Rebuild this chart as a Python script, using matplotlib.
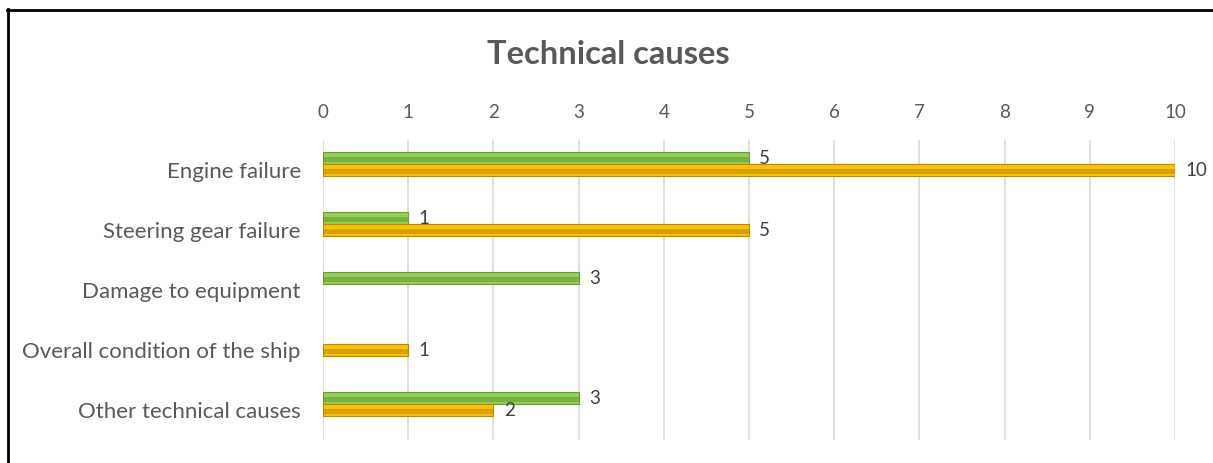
import matplotlib.pyplot as plt
import numpy as np
from matplotlib.lines import Line2D

plt.rcParams['font.family'] = ['Lato', 'DejaVu Sans']

causes = ["Engine failure", "Steering gear failure", "Damage to equipment",
          "Overall condition of the ship", "Other technical causes"]
green_vals = [5, 1, 3, 0, 3]
yellow_vals = [10, 5, 0, 1, 2]
x_ticks = list(range(0, 11))

fig = plt.figure(figsize=(12.13, 4.63), dpi=100)
ax = fig.add_axes([323 / 1213, 23 / 463, 852 / 1213, 300 / 463])

y = np.arange(len(causes))
h = 0.2
txt = '#595959'
fs = 13.5


def draw_bars(pos, vals, face, edge, shade):
    pos = np.asarray(pos)
    vals = np.asarray(vals)
    keep = vals > 0
    ax.barh(pos[keep], vals[keep], height=h, color=face, edgecolor=edge,
            linewidth=0.8, zorder=3)
    # darker core stripe for the tube look
    ax.barh(pos[keep] + h * 0.12, vals[keep], height=h * 0.35, color=shade,
            alpha=0.35, linewidth=0, zorder=4)
    for p, v in zip(pos[keep], vals[keep]):
        ax.text(v + 0.12, p, str(v), va='center', ha='left',
                fontsize=fs, color='#404040', zorder=5)


draw_bars(y - h, green_vals, '#92D050', '#6E9A3A', '#4E7A2A')
draw_bars(y, yellow_vals, '#FFC000', '#B88A00', '#8A6A00')

ax.set_xlim(0, 10)
ax.set_ylim(4.5, -0.5)
ax.set_xticks(x_ticks)
ax.set_yticks(y)
ax.set_yticklabels(causes, fontsize=16)
ax.xaxis.tick_top()
ax.tick_params(axis='x', length=0, labelsize=fs, labelcolor=txt, pad=14)
ax.tick_params(axis='y', length=0, labelcolor=txt, pad=16)
ax.grid(axis='x', color='#D9D9D9', linewidth=1.2, zorder=0)
for s in ax.spines.values():
    s.set_visible(False)

fig.text(0.5013, 1 - 54 / 463, "Technical causes", ha='center', va='center',
         fontsize=23.5, fontweight='bold', color=txt)

# frame on the left and top edges
fig.add_artist(Line2D([7.5 / 1213, 7.5 / 1213], [0, 1 - 9 / 463], color='black', lw=2))
fig.add_artist(Line2D([7 / 1213, 1], [1 - 9.5 / 463, 1 - 9.5 / 463], color='black', lw=2))

fig.savefig("out.png", dpi=100)
